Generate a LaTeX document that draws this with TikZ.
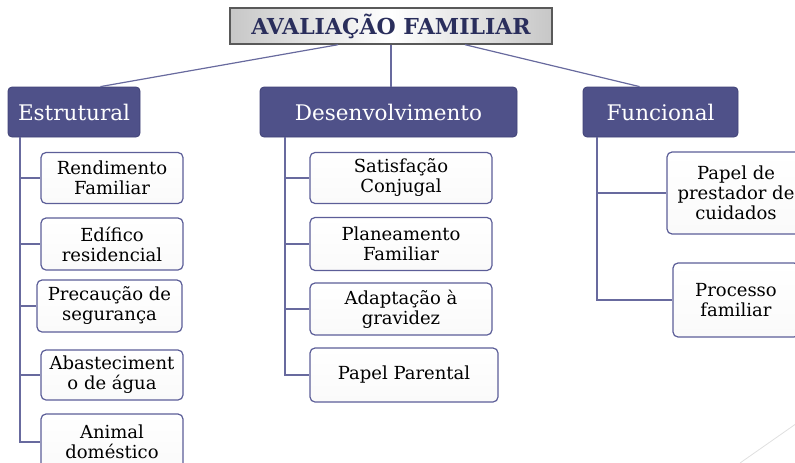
\documentclass[tikz,border=0pt]{standalone}
\usepackage{fontspec}
\setmainfont{DejaVu Serif}
\usetikzlibrary{calc,shadows}
\definecolor{hdr}{RGB}{79,81,137}
\definecolor{hdrline}{RGB}{64,66,118}
\definecolor{kidline}{RGB}{92,94,152}
\definecolor{conn}{RGB}{104,106,158}
\definecolor{ttl}{RGB}{42,46,92}
\tikzset{
  titlebox/.style={draw=black!65, line width=1.4pt, left color=black!22, right color=black!22, middle color=white,
    font=\fontsize{22}{24}\selectfont\bfseries, text=ttl, inner sep=0pt},
  hdrbox/.style={fill=hdr, draw=hdrline, line width=0.8pt, rounded corners=4pt, text=white,
    font=\fontsize{21.5}{24}\selectfont, inner sep=0pt},
  kidbox/.style={draw=kidline, line width=1.2pt, rounded corners=5pt, top color=white, bottom color=black!2,
    font=\fontsize{18}{20}\selectfont, align=center, inner sep=0pt, text=black},
  connline/.style={draw=conn, line width=1.5pt},
}
\begin{document}
\begin{tikzpicture}[x=1pt,y=-1pt]
\useasboundingbox (0,0) rectangle (795,463);
\clip (0,0) rectangle (795,463);
% faint decoration
\draw[black!12, line width=0.8pt] (740,463) -- (800,421);
% title
\node[titlebox, minimum width=322pt, minimum height=36pt] (T) at (391,26) {AVALIAÇÃO FAMILIAR};
% headers
\node[hdrbox, minimum width=132pt, minimum height=50pt] (E) at (74,112) {Estrutural};
\node[hdrbox, minimum width=257pt, minimum height=50pt] (D) at (388.5,112) {Desenvolvimento};
\node[hdrbox, minimum width=155pt, minimum height=50pt] (F) at (660.5,112) {Funcional};
% title connectors
\draw[connline, line width=1.2pt] ($(T.south)+(-53,0)$) -- ($(E.north east)+(-40,0)$);
\draw[connline, line width=1.2pt] (T.south) -- (D.north -| T.south);
\draw[connline, line width=1.2pt] ($(T.south)+(74,0)$) -- ($(F.north west)+(57,0)$);
% Estrutural children
\node[kidbox, minimum width=142pt, minimum height=51pt] (e1) at (112,178) {Rendimento\\Familiar};
\node[kidbox, minimum width=142pt, minimum height=52pt] (e2) at (112,244) {Edífico\\residencial};
\node[kidbox, minimum width=145pt, minimum height=52pt] (e3) at (109.5,306) {Precaução de\\segurança};
\node[kidbox, minimum width=142pt, minimum height=50pt] (e4) at (112,375) {Abasteciment\\o de água};
\node[kidbox, minimum width=142pt, minimum height=56pt] (e5) at (112,442) {Animal\\doméstico};
\coordinate (ex) at (20,137);
\draw[connline] (ex) |- (e5.west);
\foreach \k in {e1,e2,e3,e4} \draw[connline] (ex |- \k.west) -- (\k.west);
% Desenvolvimento children
\node[kidbox, minimum width=182pt, minimum height=51pt] (d1) at (401,178) {Satisfação\\Conjugal};
\node[kidbox, minimum width=182pt, minimum height=53pt] (d2) at (401,244) {Planeamento\\Familiar};
\node[kidbox, minimum width=182pt, minimum height=52pt] (d3) at (401,309) {Adaptação à\\gravidez};
\node[kidbox, minimum width=188pt, minimum height=54pt] (d4) at (404,375) {Papel Parental};
\coordinate (dx) at (285,137);
\draw[connline] (dx) |- (d4.west);
\foreach \k in {d1,d2,d3} \draw[connline] (dx |- \k.west) -- (\k.west);
% Funcional children
\node[kidbox, minimum width=138pt, minimum height=82pt] (f1) at (736,193) {Papel de\\prestador de\\cuidados};
\node[kidbox, minimum width=126pt, minimum height=74pt] (f2) at (736,300) {Processo\\familiar};
\coordinate (fx) at (597,137);
\draw[connline] (fx) |- (f2.west);
\draw[connline] (fx |- f1.west) -- (f1.west);
\end{tikzpicture}
\end{document}
